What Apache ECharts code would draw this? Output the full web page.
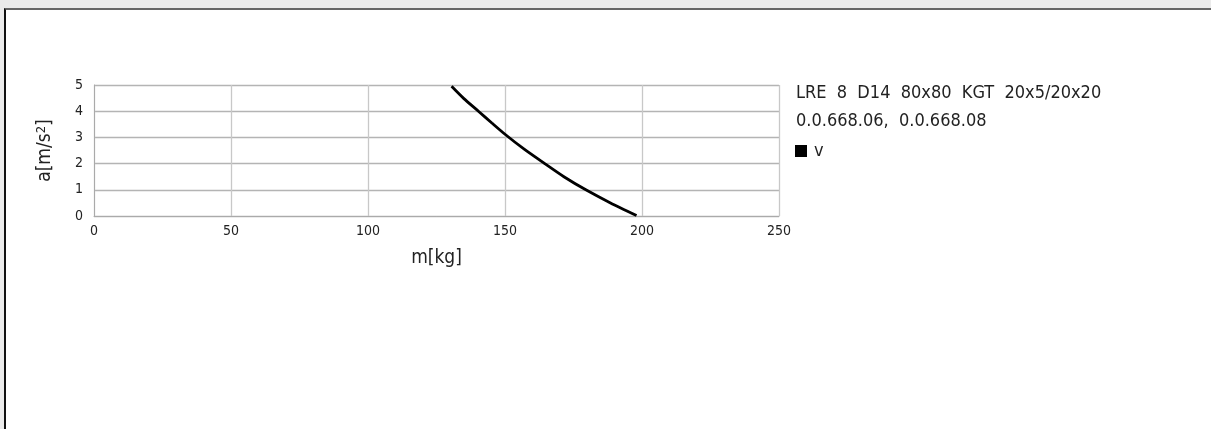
<!DOCTYPE html>
<html>
<head>
<meta charset="utf-8">
<script src="https://cdn.jsdelivr.net/npm/echarts@6/dist/echarts.min.js"></script>
<style>
  html, body { margin: 0; padding: 0; background: #ebebeb; }
  #frame { position: absolute; left: 4px; top: 8px; right: 0; bottom: 0; background: #fff;
           border-left: 2px solid #111; border-top: 2px solid #666; }
  #chart { position: absolute; left: 0; top: 0; width: 1211px; height: 429px; }
</style>
</head>
<body>
<div id="frame"></div>
<div id="chart"></div>
<script>
// Acceleration versus payload mass for the axis drive
const massKg = [130.5, 135, 140.3, 145.2, 150, 157, 164.5, 171.5, 179.5, 188.5, 198];
const accel  = [4.95, 4.48, 4.0, 3.55, 3.12, 2.55, 2.0, 1.5, 1.0, 0.5, 0.02];
const seriesName = 'v';
const titleLines = ['LRE  8  D14  80x80  KGT  20x5/20x20', '0.0.668.06,  0.0.668.08'];
const xName = 'm[kg]';
const yName = 'a[m/s{sup|2}]';

const font = '"Liberation Sans Narrow", "DejaVu Sans Condensed", sans-serif';
const chart = echarts.init(document.getElementById('chart'), null, { renderer: 'canvas' });
chart.setOption({
  backgroundColor: 'transparent',
  animation: false,
  textStyle: { fontFamily: font },
  title: {
    text: titleLines.join('\n'),
    left: 791, top: 74,
    textStyle: { fontFamily: font, fontSize: 18, fontWeight: 'normal', color: '#222', lineHeight: 28 }
  },
  legend: {
    left: 790, top: 137,
    icon: 'rect', itemWidth: 12, itemHeight: 12, itemGap: 10,
    textStyle: { fontFamily: font, fontSize: 18, color: '#222', padding: [0, 0, 0, 2] },
    data: [seriesName]
  },
  grid: { left: 94, right: 432, top: 85, bottom: 213, containLabel: false },
  xAxis: {
    type: 'value', min: 0, max: 250, interval: 50,
    name: xName, nameLocation: 'middle', nameGap: 33,
    nameTextStyle: { fontFamily: font, fontSize: 19, color: '#222' },
    axisLine: { show: true, lineStyle: { color: '#aaa', width: 1 } },
    axisTick: { show: false },
    axisLabel: { fontFamily: font, fontSize: 14, color: '#222', margin: 8 },
    splitLine: { show: true, lineStyle: { color: '#c8c8c8', width: 1.3 } }
  },
  yAxis: {
    type: 'value', min: 0, max: 5, interval: 1,
    name: yName, nameLocation: 'middle', nameGap: 38, nameRotate: 90,
    nameTextStyle: {
      fontFamily: font, fontSize: 19, color: '#222',
      rich: { sup: { fontFamily: font, fontSize: 13, color: '#222', verticalAlign: 'top', padding: [0, 0, 8, 0] } }
    },
    axisLine: { show: true, lineStyle: { color: '#aaa', width: 1 } },
    axisTick: { show: false },
    axisLabel: { fontFamily: font, fontSize: 14, color: '#222', margin: 11 },
    splitLine: { show: true, lineStyle: { color: '#b4b4b4', width: 1.3 } }
  },
  series: [{
    name: seriesName, type: 'line', smooth: 0.25, showSymbol: false,
    color: '#000',
    lineStyle: { color: '#000', width: 2.8 },
    data: massKg.map((m, i) => [m, accel[i]])
  }]
});
</script>
</body>
</html>
